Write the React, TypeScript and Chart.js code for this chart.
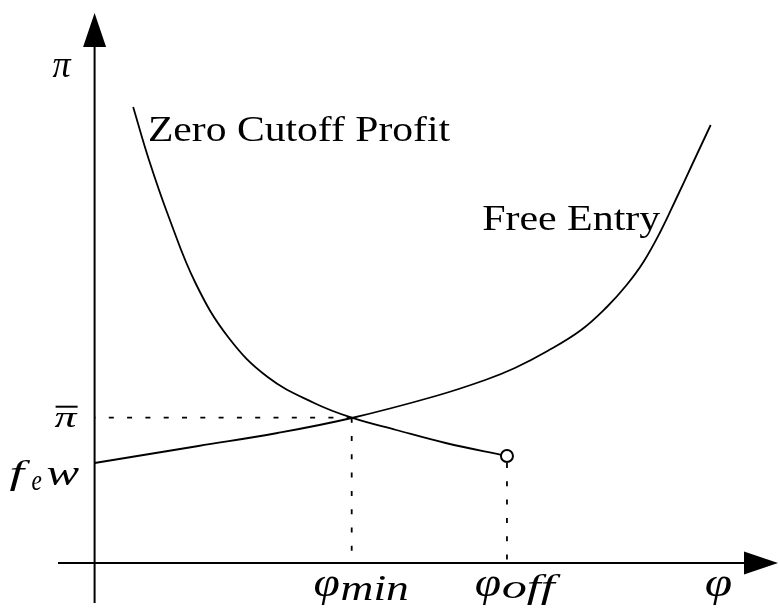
import React, { useEffect, useRef } from "react";
import { Chart, registerables } from "chart.js";

Chart.register(...registerables);

// Zero Cutoff Profit curve
const zcpX = [0.39, 0.55, 0.75, 1.02, 1.35, 1.75, 2.22, 2.6, 3.05, 3.55, 4.17];
const zcpY = [4.56, 4.03, 3.46, 2.8, 2.26, 1.86, 1.6, 1.453, 1.33, 1.2, 1.07];
// Free Entry curve
const feX = [0, 1.05, 1.85, 2.6, 3.45, 3.95, 4.25, 4.58, 4.92, 5.18, 5.38, 5.55, 5.72, 5.88, 6.05, 6.23];
const feY = [1.0, 1.17, 1.3, 1.45, 1.67, 1.83, 1.95, 2.12, 2.33, 2.56, 2.78, 3.01, 3.31, 3.64, 4.0, 4.38];
// tick values
const phiMin = 2.6;
const phiOff = 4.17;
const piBar = 1.453;
const feW = 1.0;
const cutoffEnd = { x: 4.17, y: 1.07 };

const FONT_MATH = "italic 40px 'Liberation Serif'";
const FONT_TEXT = "38px 'Liberation Serif'";

function fitBox(ctx: CanvasRenderingContext2D, text: string, font: string, l: number, r: number, t: number, b: number) {
  ctx.save();
  ctx.font = font;
  ctx.textAlign = "left";
  ctx.textBaseline = "alphabetic";
  const m = ctx.measureText(text);
  const inkL = -m.actualBoundingBoxLeft;
  const inkR = m.actualBoundingBoxRight;
  const inkT = -m.actualBoundingBoxAscent;
  const inkB = m.actualBoundingBoxDescent;
  const sx = (r - l) / (inkR - inkL);
  const sy = (b - t) / (inkB - inkT);
  ctx.translate(l - inkL * sx, t - inkT * sy);
  ctx.scale(sx, sy);
  ctx.fillStyle = "#000";
  ctx.fillText(text, 0, 0);
  ctx.restore();
}

const axesPlugin = {
  id: "axesArrows",
  beforeDatasetsDraw(chart: any) {
    const ctx: CanvasRenderingContext2D = chart.ctx;
    const { left, right, top, bottom } = chart.chartArea;
    const x0 = chart.scales.x.getPixelForValue(0);
    const y0 = chart.scales.y.getPixelForValue(0);
    ctx.save();
    ctx.strokeStyle = "#000";
    ctx.fillStyle = "#000";
    ctx.lineWidth = 2;
    ctx.beginPath();
    ctx.moveTo(left, y0);
    ctx.lineTo(right - 10, y0);
    ctx.moveTo(x0, bottom);
    ctx.lineTo(x0, top + 20);
    ctx.stroke();
    // x arrow
    ctx.beginPath();
    ctx.moveTo(right + 7, y0);
    ctx.lineTo(right - 27, y0 - 11.5);
    ctx.lineTo(right - 27, y0 + 11.5);
    ctx.closePath();
    ctx.fill();
    // y arrow
    ctx.beginPath();
    ctx.moveTo(x0, top);
    ctx.lineTo(x0 - 11.5, top + 34);
    ctx.lineTo(x0 + 11.5, top + 34);
    ctx.closePath();
    ctx.fill();
    ctx.restore();
  },
  afterDraw(chart: any) {
    const ctx: CanvasRenderingContext2D = chart.ctx;
    const xs = chart.scales.x;
    const ys = chart.scales.y;
    const { right } = chart.chartArea;
    const x0 = xs.getPixelForValue(0);
    const y0 = ys.getPixelForValue(0);
    const xm = xs.getPixelForValue(phiMin);
    const xo = xs.getPixelForValue(phiOff);
    const yb = ys.getPixelForValue(piBar);
    const yf = ys.getPixelForValue(feW);

    // curve labels
    fitBox(ctx, "Zero Cutoff Profit", FONT_TEXT, xs.getPixelForValue(0.55), xs.getPixelForValue(3.6), ys.getPixelForValue(4.49), ys.getPixelForValue(4.22));
    fitBox(ctx, "Free Entry", FONT_TEXT, xs.getPixelForValue(3.93), xs.getPixelForValue(5.72), ys.getPixelForValue(3.57), ys.getPixelForValue(3.25));

    // y axis label
    fitBox(ctx, "\u03c0", FONT_MATH, x0 - 42, x0 - 23, 59, 77);

    // pi bar
    fitBox(ctx, "\u03c0", FONT_MATH, x0 - 40, x0 - 17, yb - 5, yb + 9);
    ctx.save();
    ctx.fillStyle = "#000";
    ctx.fillRect(x0 - 39, yb - 12, 22, 2);
    ctx.restore();

    // f_e w
    fitBox(ctx, "f", FONT_MATH, x0 - 85, x0 - 64, yf - 2, yf + 29);
    fitBox(ctx, "e", "italic 28px 'Liberation Serif'", x0 - 63, x0 - 53, yf + 13, yf + 27);
    fitBox(ctx, "w", FONT_MATH, x0 - 48, x0 - 15, yf + 5, yf + 22);

    // x tick labels
    fitBox(ctx, "\u03c6", FONT_MATH, xm - 37, xm - 12, y0 + 12, y0 + 42);
    fitBox(ctx, "min", FONT_MATH, xm - 10, xm + 56, y0 + 14, y0 + 37);
    fitBox(ctx, "\u03c6", FONT_MATH, xo - 31, xo - 6, y0 + 12, y0 + 42);
    fitBox(ctx, "off", FONT_MATH, xo - 4, xo + 54, y0 + 11, y0 + 43);
    // x axis label
    fitBox(ctx, "\u03c6", FONT_MATH, right - 65, right - 39, y0 + 12, y0 + 42);
  },
};

export default function App() {
  const ref = useRef<HTMLCanvasElement | null>(null);
  useEffect(() => {
    document.body.style.margin = "0";
    const canvas = ref.current!;
    const pts = (xs: number[], ys: number[]) => xs.map((x, i) => ({ x, y: ys[i] }));
    const dot = {
      borderColor: "#000",
      borderWidth: 1.8,
      borderDash: [5, 13.3],
      pointRadius: 0,
      showLine: true,
      tension: 0,
      order: 3,
      clip: false as any,
    };
    const curve = {
      borderColor: "#000",
      borderWidth: 1.8,
      pointRadius: 0,
      showLine: true,
      tension: 0.4,
      order: 1,
      clip: false as any,
    };
    const chart = new Chart(canvas, {
      type: "scatter",
      data: {
        datasets: [
          {
            label: "end",
            data: [cutoffEnd],
            pointRadius: 6,
            pointBorderWidth: 2,
            pointBackgroundColor: "#fff",
            pointBorderColor: "#000",
            showLine: false,
            order: 0,
            clip: false as any,
          },
          { ...curve, label: "Zero Cutoff Profit", data: pts(zcpX, zcpY) },
          { ...curve, label: "Free Entry", data: pts(feX, feY) },
          { ...dot, label: "piBar", data: [{ x: phiMin, y: piBar }, { x: 0, y: piBar }] },
          { ...dot, label: "phiMin", data: [{ x: phiMin, y: piBar }, { x: phiMin, y: 0 }] },
          { ...dot, label: "phiOff", data: [{ x: phiOff, y: cutoffEnd.y - 0.07 }, { x: phiOff, y: 0 }] },
        ] as any,
      },
      options: {
        animation: false,
        responsive: false,
        devicePixelRatio: 1,
        layout: { padding: { left: 58, right: 0, top: 13, bottom: 11 } },
        scales: {
          x: { type: "linear", min: -0.37, max: 6.84, display: false },
          y: { type: "linear", min: -0.4, max: 5.5, display: false },
        },
        plugins: {
          legend: { display: false },
          tooltip: { enabled: false },
          title: { display: false },
        },
        events: [],
      },
      plugins: [axesPlugin],
    });
    return () => chart.destroy();
  }, []);
  return (
    <div style={{ width: 779, height: 614, background: "#fff" }}>
      <canvas ref={ref} width={779} height={614} style={{ display: "block" }} />
    </div>
  );
}
